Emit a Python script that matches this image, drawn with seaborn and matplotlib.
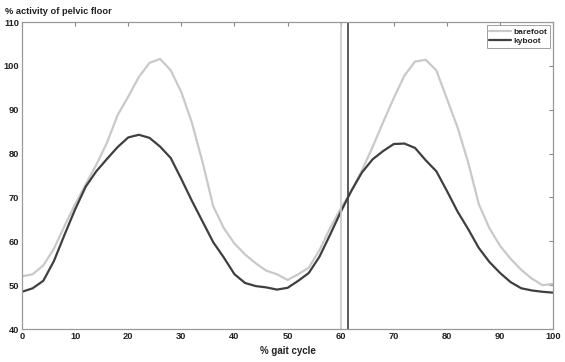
import numpy as np
import pandas as pd
import matplotlib
matplotlib.use("Agg")
import matplotlib.pyplot as plt
import seaborn as sns

gait = [0, 2, 4, 6, 8, 10, 12, 14, 16, 18, 20, 22, 24, 26, 28, 30, 32, 34, 36, 38,
        40, 42, 44, 46, 48, 50, 52, 54, 56, 58, 60, 62, 64, 66, 68, 70, 72, 74, 76, 78,
        80, 82, 84, 86, 88, 90, 92, 94, 96, 98, 100]

barefoot = [52.0, 52.5, 54.5, 58.3, 63.5, 68.5, 73.0, 77.5, 82.5, 88.8,
            93.0, 97.5, 100.7, 101.6, 99.0, 94.0, 87.0, 78.0, 68.0, 63.0,
            59.5, 57.0, 55.0, 53.3, 52.5, 51.2, 52.5, 54.0, 58.0, 63.0,
            67.5, 71.5, 76.2, 81.5, 87.2, 92.7, 97.8, 101.0, 101.4, 99.0,
            92.5, 86.0, 78.0, 68.5, 63.0, 59.0, 56.0, 53.5, 51.5, 50.0, 50.3]

kyboot = [48.5, 49.3, 51.0, 55.5, 61.5, 67.3, 72.5, 76.0, 78.8, 81.5,
          83.7, 84.3, 83.6, 81.6, 79.0, 74.2, 69.2, 64.5, 59.8, 56.3,
          52.5, 50.5, 49.8, 49.5, 49.0, 49.4, 51.0, 52.8, 56.5, 61.5,
          66.7, 71.5, 75.7, 78.7, 80.6, 82.2, 82.3, 81.3, 78.5, 76.0,
          71.5, 66.8, 62.8, 58.5, 55.3, 52.8, 50.7, 49.3, 48.8, 48.5, 48.3]

toe_off = {"barefoot": 60.0, "kyboot": 61.4}
series_names = ["barefoot", "kyboot"]

df = pd.DataFrame({
    "gait": gait * 2,
    "value": barefoot + kyboot,
    "condition": ["barefoot"] * len(gait) + ["kyboot"] * len(gait),
})

sns.set_theme(style="white")
plt.rcParams["font.family"] = ["Liberation Sans", "DejaVu Sans"]

colors = {"barefoot": "#c9c9c9", "kyboot": "#3f3f3f"}

fig = plt.figure(figsize=(5.65, 3.62), dpi=100)
ax = fig.add_axes([0.039, 0.091, 0.940, 0.848])

sns.lineplot(data=df, x="gait", y="value", hue="condition", palette=colors,
             linewidth=1.6, ax=ax)

for name in series_names:
    ax.axvline(toe_off[name], color=colors[name], linewidth=1.2)

ax.set_xlim(0, 100)
ax.set_ylim(40, 110)
ax.set_xticks(range(0, 101, 10))
ax.set_yticks(range(40, 111, 10))
ax.tick_params(axis="both", direction="in", length=3, width=0.8, color="#888888",
               labelsize=6.7, top=True, right=True, pad=2)
for lbl in ax.get_xticklabels() + ax.get_yticklabels():
    lbl.set_fontweight("bold")
    lbl.set_color("#222222")
for s in ax.spines.values():
    s.set_color("#999999")
    s.set_linewidth(0.9)

ax.set_xlabel("% gait cycle", fontsize=7, fontweight="bold", color="#222222", labelpad=4)
ax.set_ylabel("")
fig.text(0.009, 0.955, "% activity of pelvic floor", fontsize=6.7, fontweight="bold",
         color="#222222", ha="left", va="bottom")

leg = ax.legend(loc="upper right", fontsize=6, frameon=True, fancybox=False,
                handlelength=2.6, handletextpad=0.3, borderpad=0.3, labelspacing=0.2,
                borderaxespad=0.4)
leg.get_frame().set_edgecolor("#888888")
leg.get_frame().set_linewidth(0.7)
for t in leg.get_texts():
    t.set_fontweight("bold")

fig.savefig("out.png", dpi=100)
